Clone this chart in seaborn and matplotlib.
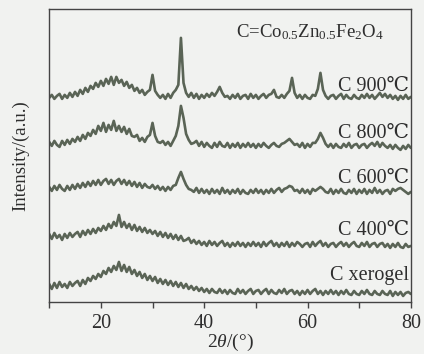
"""
XRD patterns of Co0.5Zn0.5Fe2O4 composites at different annealing temperatures.
"""

import matplotlib

matplotlib.use("Agg")
import matplotlib.pyplot as plt
import numpy as np
import pandas as pd
import seaborn as sns

# ── Data (0.5° steps from 10° to 80°) ────────────────────────────────────────
two_theta = np.arange(10, 80.01, 0.5)

c_900 = [
    1, 4, 0, 3, 5, 0, 4, 1, 6, 2,
    7, 3, 9, 5, 11, 7, 13, 10, 16, 12,
    18, 13, 20, 15, 22, 14, 22, 16, 19, 13,
    17, 11, 14, 8, 11, 6, 9, 4, 7, 9,
    24, 8, 4, 1, 4, 0, 5, 1, 6, 9,
    14, 61, 16, 6, 2, 6, 1, 5, 0, 4,
    1, 5, 2, 6, 3, 7, 12, 6, 2, 3,
    0, 4, 1, 5, 0, 3, 4, 0, 5, 1,
    4, 0, 3, 5, 1, 4, 5, 9, 2, 1,
    4, 1, 5, 8, 21, 6, 1, 4, 0, 4,
    1, 0, 4, 3, 10, 26, 9, 3, 0, 3,
    4, 0, 3, 5, 0, 4, 1, 0, 4, 1,
    0, 4, 1, 5, 1, 4, 0, 3, 6, 2,
    5, 1, 4, 0, 3, -1, 3, 0, 4, 0,
    2,
]
c_800 = [
    6, 2, 7, 3, 1, 7, 3, 8, 4, 9,
    6, 11, 7, 13, 9, 15, 12, 18, 14, 22,
    17, 25, 16, 23, 18, 27, 17, 22, 16, 21,
    14, 19, 12, 11, 13, 7, 10, 6, 11, 13,
    25, 12, 6, 5, 7, 3, 6, 2, 7, 12,
    22, 42, 30, 14, 8, 4, 5, 7, 2, 6,
    1, 5, 2, 0, 5, 1, 6, 2, 1, 5,
    0, 4, 1, 5, 0, 4, 1, 5, 1, 4,
    0, 4, 1, 5, 2, 0, 3, 5, 2, 1,
    4, 5, 7, 9, 6, 3, 4, 1, 5, 0,
    4, 1, 5, 5, 9, 15, 10, 4, 1, 4,
    0, 4, 1, 0, 4, 1, 5, 0, 3, 4,
    0, 3, 4, 0, 3, 5, 2, 6, 1, 5,
    2, 0, 3, -1, 3, 0, -2, 2, -1, 3,
    0,
]
c_600 = [
    7, 3, 8, 4, 9, 5, 3, 8, 4, 9,
    5, 10, 6, 11, 7, 12, 8, 13, 9, 14,
    9, 13, 15, 10, 14, 9, 13, 15, 10, 14,
    9, 13, 8, 12, 7, 11, 6, 10, 7, 6,
    9, 5, 8, 4, 7, 3, 7, 4, 8, 9,
    16, 22, 15, 9, 5, 4, 2, 6, 1, 5,
    1, 4, 0, 5, 1, 4, 0, 6, 1, 4,
    0, 4, 1, 5, 0, 4, 1, 0, 4, 1,
    5, 1, 4, 0, 4, 1, 5, 1, 4, 6,
    2, 5, 6, 8, 7, 3, 4, 1, 5, 1,
    4, 0, 5, 3, 5, 7, 5, 2, 1, 5,
    0, 4, 1, 5, 1, 0, 4, 1, 5, 0,
    4, 1, 5, 0, 4, 1, 6, 1, 4, 0,
    3, 4, 0, 5, 3, 5, 6, 4, 2, 0,
    2,
]
c_400 = [
    13, 8, 14, 9, 12, 7, 13, 9, 14, 10,
    13, 15, 10, 16, 12, 17, 13, 18, 14, 19,
    16, 21, 17, 23, 19, 25, 21, 32, 20, 25,
    19, 23, 17, 22, 16, 20, 15, 19, 14, 17,
    13, 16, 11, 15, 10, 14, 9, 13, 8, 12,
    7, 11, 6, 7, 9, 4, 7, 3, 6, 2,
    5, 1, 6, 2, 5, 1, 4, 6, 1, 4,
    0, 4, 1, 5, 1, 4, 0, 4, 1, 5,
    1, 4, 0, 5, 1, 4, 6, 1, 4, 0,
    4, 1, 5, 0, 4, 1, 5, 3, 0, 3,
    4, 0, 5, 1, 4, 6, 1, 4, 0, 3,
    4, 0, 3, 5, 1, 4, 0, 3, 5, 1,
    0, 4, 1, 5, 0, 3, 4, 0, 3, 4,
    0, 3, -1, 3, 0, 4, 0, -1, 3, 0,
    1,
]
c_xerogel = [
    11, 6, 12, 7, 13, 8, 11, 7, 13, 9,
    12, 14, 9, 15, 11, 17, 14, 19, 16, 21,
    18, 24, 21, 27, 23, 29, 25, 33, 24, 30,
    23, 28, 21, 25, 19, 23, 17, 21, 15, 19,
    14, 18, 12, 16, 11, 15, 10, 14, 9, 13,
    8, 12, 7, 11, 6, 9, 5, 8, 4, 7,
    3, 6, 2, 6, 3, 2, 6, 2, 5, 1,
    5, 2, 1, 6, 2, 5, 1, 4, 6, 1,
    4, 5, 1, 4, 6, 1, 5, 2, 1, 5,
    2, 6, 1, 4, 5, 1, 4, 0, 4, 1,
    5, 1, 4, 6, 1, 4, 0, 4, 1, 5,
    1, 4, 0, 4, 1, 5, 1, 0, 4, 1,
    0, 4, 1, 5, 1, 0, 4, 1, 0, 4,
    1, 0, 4, -1, 3, 0, 3, -1, 2, 3,
    1,
]

series_names = ["C 900℃", "C 800℃", "C 600℃", "C 400℃", "C xerogel"]
series_values = [c_900, c_800, c_600, c_400, c_xerogel]

x_ticks = [10, 20, 30, 40, 50, 60, 70, 80]
x_tick_labels = ["", "20", "", "40", "", "60", "", "80"]

# ── Layout / style ───────────────────────────────────────────────────────────
offsets = [203, 154, 108, 55, 7]
label_y = [215, 168, 123, 71, 26]
line_color = "#4a5545"
bg_color = "#f1f2f0"
text_color = "#2e2e2e"

sns.set_theme(style="white")
plt.rcParams["font.family"] = ["Liberation Serif", "DejaVu Serif"]
plt.rcParams["mathtext.fontset"] = "custom"
plt.rcParams["mathtext.rm"] = "Liberation Serif"
plt.rcParams["mathtext.it"] = "Liberation Serif:italic"

fig = plt.figure(figsize=(4.24, 3.54), dpi=100, facecolor=bg_color)
ax = fig.add_axes([0.116, 0.147, 0.853, 0.828], facecolor=bg_color)

for name, vals, off in zip(series_names, series_values, offsets):
    df = pd.DataFrame({"two_theta": two_theta, "intensity": np.asarray(vals) + off})
    sns.lineplot(data=df, x="two_theta", y="intensity", ax=ax,
                 color=line_color, linewidth=1.9, alpha=0.9)

for name, y in zip(series_names, label_y):
    ax.text(79.6, y, name, ha="right", va="center", fontsize=14.5, color=text_color)

ax.text(74.8, 270, r"C=Co$_{0.5}$Zn$_{0.5}$Fe$_2$O$_4$", ha="right", va="center",
        fontsize=13.5, color=text_color)

ax.set_xlim(10, 80)
ax.set_ylim(0, 293)
ax.set_xticks(x_ticks)
ax.set_xticklabels(x_tick_labels, fontsize=14.5, color=text_color)
ax.set_yticks([])
ax.tick_params(axis="x", direction="out", length=4, width=1, color="#444444", pad=5,
               bottom=True)
for spine in ax.spines.values():
    spine.set_color("#444444")
    spine.set_linewidth(1.0)

ax.set_xlabel(r"2$\theta$/(°)", fontsize=14, color=text_color, labelpad=-1)
ax.set_ylabel("Intensity/(a.u.)", fontsize=13.5, color=text_color, labelpad=14)

fig.savefig("out.png", dpi=100, facecolor=bg_color)
